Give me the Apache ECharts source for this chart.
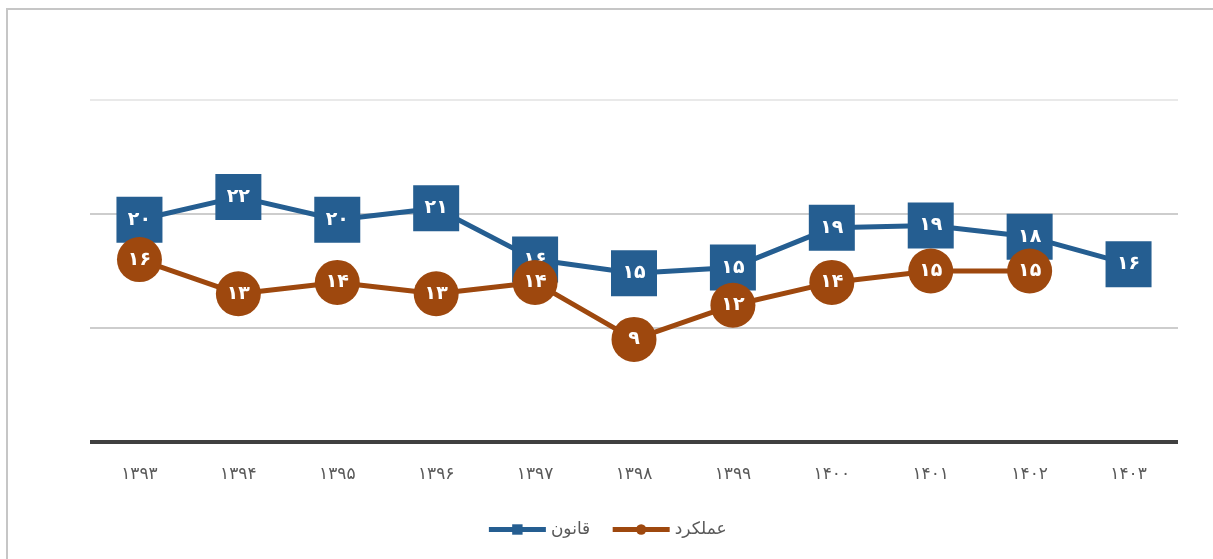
<!DOCTYPE html>
<html>
<head>
<meta charset="utf-8">
<script src="https://cdn.jsdelivr.net/npm/echarts@6/dist/echarts.min.js"></script>
<style>
  html, body { margin: 0; padding: 0; background: #fff; }
  #frame {
    position: absolute; left: 6px; top: 8px; width: 1220px; height: 560px;
    border-left: 2px solid #c6c6c6; border-top: 2px solid #c6c6c6;
  }
  #main { position: absolute; left: 0; top: 0; width: 1213px; height: 559px; }
</style>
</head>
<body>
<div id="frame"></div>
<div id="main"></div>
<script>
// سال‌ها
const years = ['1393', '1394', '1395', '1396', '1397', '1398', '1399', '1400', '1401', '1402', '1403'];
// قانون
const qanunValues = [19.5, 21.5, 19.5, 20.5, 16, 14.8, 15.3, 18.8, 19, 18, 15.6];
// عملکرد
const amalkardValues = [16, 13, 14, 13, 14, 9, 12, 14, 15, 15, null];

const faDigits = '۰۱۲۳۴۵۶۷۸۹';
function toFa(v) {
  return String(v).replace(/[0-9]/g, d => faDigits[+d]);
}

const chart = echarts.init(document.getElementById('main'));
const font = "'DejaVu Sans', sans-serif";

const option = {
  animation: false,
  textStyle: { fontFamily: font },
  grid: { left: 90, right: 35, top: 100, bottom: 117 },
  legend: {
    bottom: 16,
    left: 'center',
    itemWidth: 57,
    itemHeight: 13,
    itemGap: 20,
    lineStyle: { width: 5 },
    textStyle: { fontSize: 17, color: '#595959', fontFamily: font },
    data: ['قانون', 'عملکرد'],
  },
  xAxis: {
    type: 'category',
    data: years,
    boundaryGap: true,
    axisLine: { lineStyle: { color: '#404040', width: 4, cap: 'butt' } },
    axisTick: { show: false },
    axisLabel: {
      formatter: v => toFa(v),
      color: '#595959',
      fontSize: 17,
      margin: 24,
      fontFamily: font,
    },
  },
  yAxis: {
    type: 'value',
    min: 0,
    max: 30,
    interval: 10,
    axisLabel: { show: false },
    axisLine: { show: false },
    axisTick: { show: false },
    splitLine: { lineStyle: { color: ['#bdbdbd', '#bdbdbd', '#bdbdbd', '#e2e2e2'], width: 1.5 } },
  },
  series: [
    {
      name: 'قانون',
      type: 'line',
      data: qanunValues,
      symbol: 'rect',
      symbolSize: 46,
      lineStyle: { color: '#255e91', width: 5 },
      itemStyle: { color: '#255e91' },
      label: {
        show: true,
        position: 'inside',
        color: '#fff',
        fontSize: 19,
        fontWeight: 'bold',
        fontFamily: font,
        formatter: p => toFa(Math.round(p.value)),
      },
      z: 2,
    },
    {
      name: 'عملکرد',
      type: 'line',
      data: amalkardValues,
      symbol: 'circle',
      symbolSize: 45,
      lineStyle: { color: '#9e480e', width: 5 },
      itemStyle: { color: '#9e480e' },
      label: {
        show: true,
        position: 'inside',
        color: '#fff',
        fontSize: 19,
        fontWeight: 'bold',
        fontFamily: font,
        formatter: p => toFa(Math.round(p.value)),
      },
      z: 3,
    },
  ],
};

chart.setOption(option);
</script>
</body>
</html>
